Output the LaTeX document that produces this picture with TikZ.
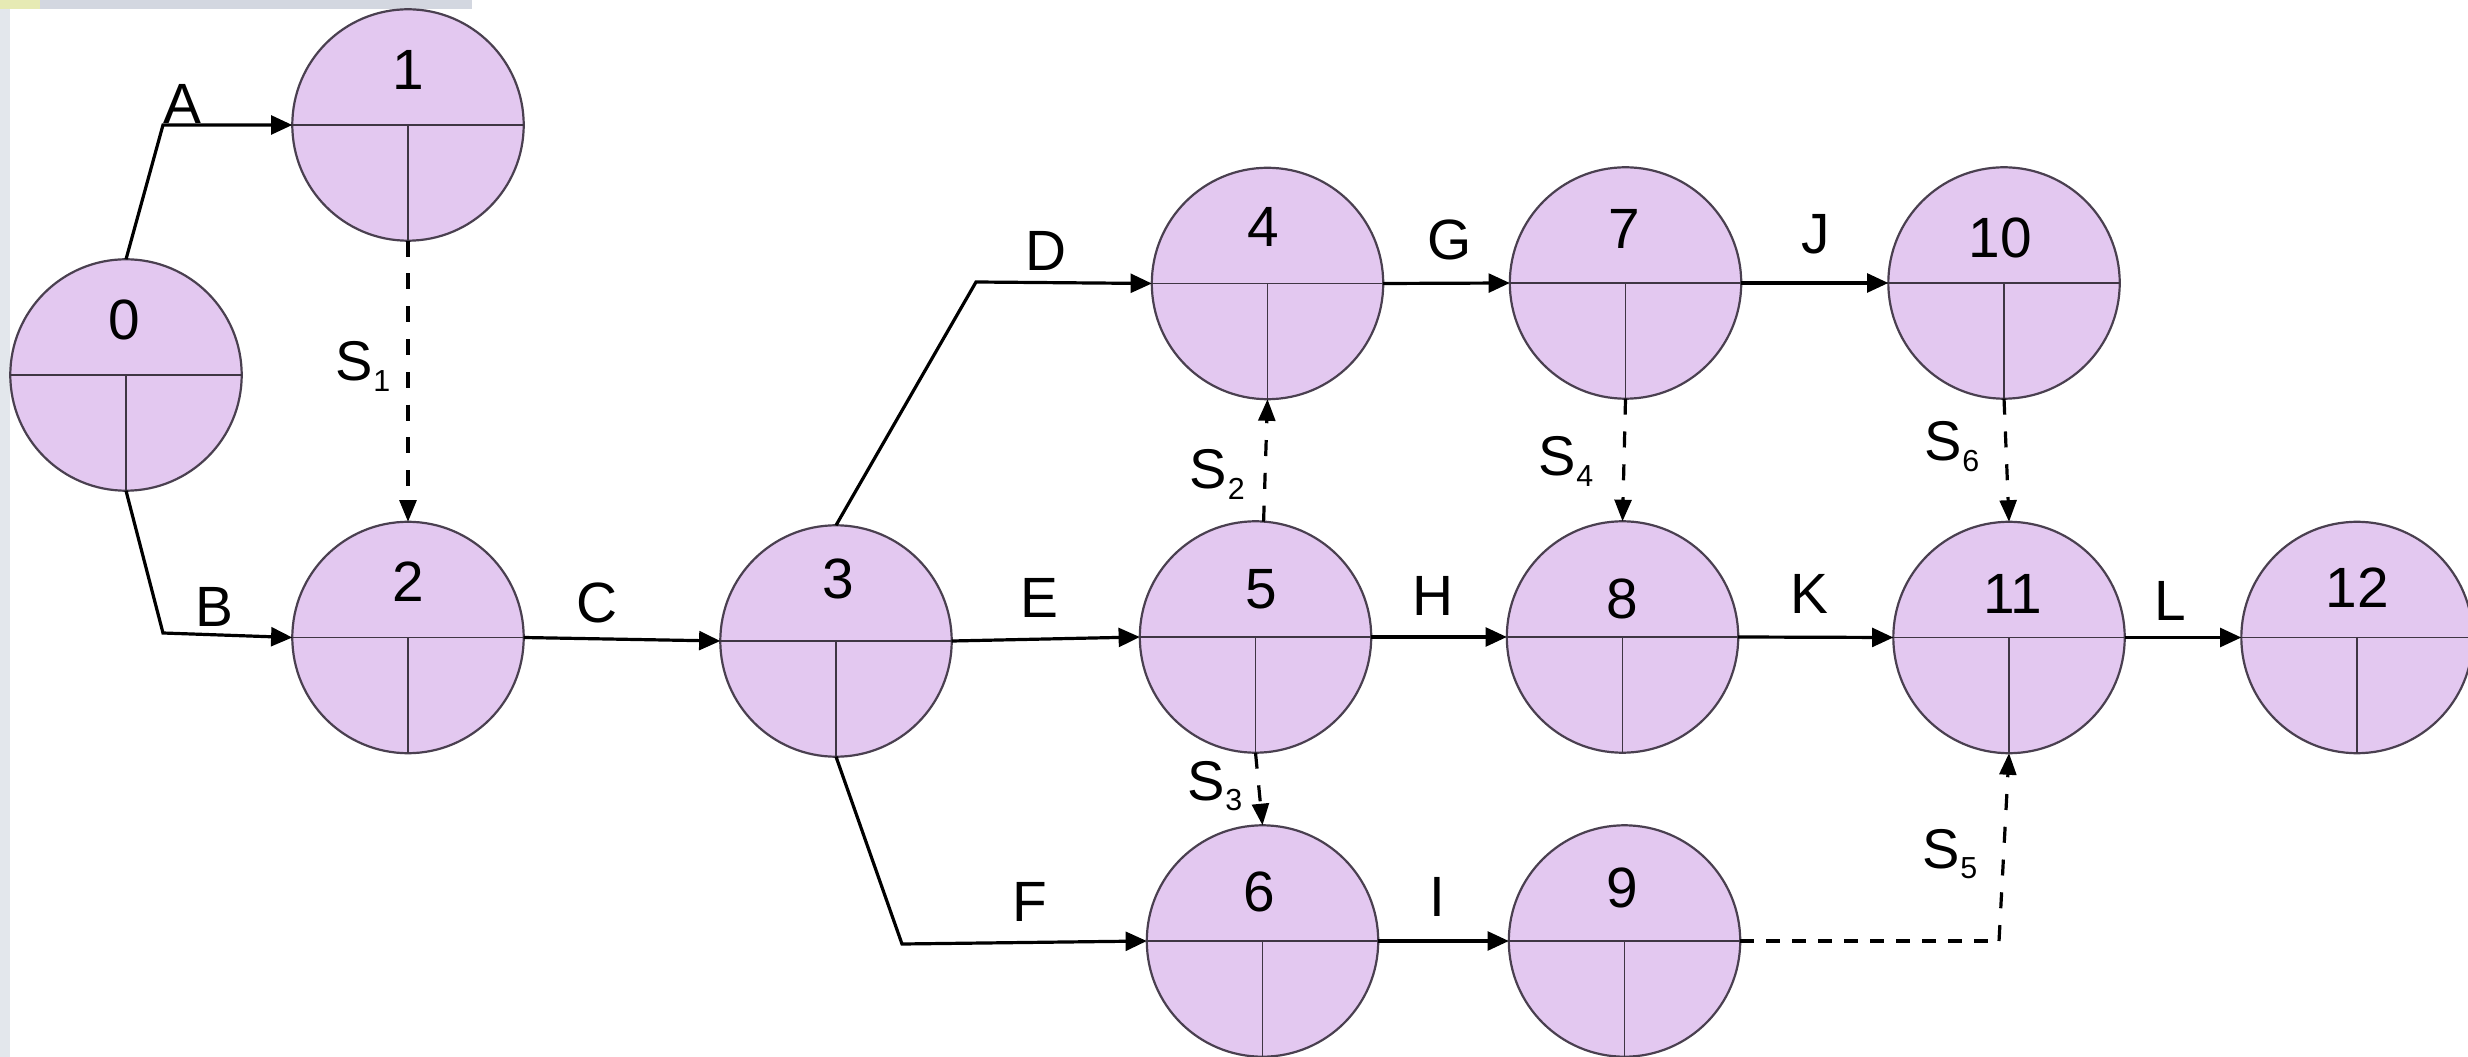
\documentclass[tikz,border=0pt]{standalone}
\usepackage{fontspec}
\setmainfont{Liberation Sans}
\usetikzlibrary{arrows.meta,calc}
\definecolor{evfill}{HTML}{E3C8F0}
\definecolor{evline}{HTML}{4A4050}
\definecolor{stripL}{HTML}{E3E7EC}
\definecolor{stripT}{HTML}{D3D7E0}
\definecolor{stripY}{HTML}{E6EAB4}
\tikzset{
 ev/.style={circle,draw=evline,line width=0.55pt,fill=evfill,minimum size=57.85pt,inner sep=0pt,outer sep=0pt},
 div/.style={draw=evline!85!black,line width=0.45pt},
 num/.style={inner sep=0pt,font=\fontsize{14.2pt}{17pt}\selectfont},
 act/.style={inner sep=0pt,font=\fontsize{14.2pt}{17pt}\selectfont},
 slab/.style={inner sep=0pt,anchor=base west,font=\fontsize{14pt}{17pt}\selectfont},
 arr/.style={draw=black,line width=0.8pt,-{Triangle[length=5.3pt,width=4.7pt]}},
 dum/.style={draw=black,line width=0.8pt,dash pattern=on 4pt off 4.2pt,-{Triangle[length=5.4pt,width=4.2pt]}},
 dumh/.style={draw=black,line width=0.8pt,dash pattern=on 3.5pt off 3pt},
}
\newcommand\Slab[1]{S\kern0.2pt\raisebox{-2.7pt}{\fontsize{7.6pt}{9pt}\selectfont #1}}
\newcommand\evnode[3]{%
  \node[ev] (#1) at (#2,#3) {};
  \draw[div] (#1.west) -- (#1.east) (#1.center) -- (#1.south);
}
\begin{document}
\begin{tikzpicture}[x=0.25pt,y=-0.25pt]
\useasboundingbox (0,0) rectangle (2468,1057);
\fill[white] (0,0) rectangle (2468,1057);
\fill[stripL] (0,0) rectangle (10,1057);
\fill[stripT] (0,0) rectangle (472,9);
\fill[stripY] (0,0) rectangle (40,9);

% events
\evnode{n0}{126}{375}
\evnode{n1}{408}{125}
\evnode{n2}{408}{637.5}
\evnode{n3}{836}{641}
\evnode{n4}{1267.5}{283.5}
\evnode{n5}{1255.5}{637}
\evnode{n6}{1262.5}{941}
\evnode{n7}{1625.5}{283}
\evnode{n8}{1622.5}{637}
\evnode{n9}{1624.5}{941}
\evnode{n10}{2004}{283}
\evnode{n11}{2009}{637.5}
\evnode{n12}{2357}{637.5}

% event numbers
\node[num] (t0) at (124.5,320) {0};
\node[num] (t1) at (408,70) {1};
\node[num] (t2) at (408,581.6) {2};
\node[num] (t3) at (838,578.5) {3};
\node[num] (t4) at (1263.6,227) {4};
\node[num] (t5) at (1261,589) {5};
\node[num] (t6) at (1259,892) {6};
\node[num] (t7) at (1624,229) {7};
\node[num] (t8) at (1622.5,599) {8};
\node[num] (t9) at (1622.5,888) {9};
\node[num] (t10) at (2000,238) {10};
\node[num] (t11) at (2013,594) {11};
\node[num] (t12) at (2357,588) {12};

% bend points
\coordinate (bA) at (163,125);
\coordinate (bB) at (163,633);
\coordinate (bD) at (976,282);
\coordinate (bF) at (902,944);
\coordinate (bS5) at (1999,941);

% activities
\draw[arr] (n0.north) -- (bA) -- (n1.west);
\draw[arr] (n0.south) -- (bB) -- (n2.west);
\draw[arr] (n2.east) -- (n3.west);
\draw[arr] (n3.north) -- (bD) -- (n4.west);
\draw[arr] (n3.east) -- (n5.west);
\draw[arr] (n3.south) -- (bF) -- (n6.west);
\draw[arr] (n4.east) -- (n7.west);
\draw[arr] (n5.east) -- (n8.west);
\draw[arr] (n6.east) -- (n9.west);
\draw[arr] (n7.east) -- (n10.west);
\draw[arr] (n8.east) -- (n11.west);
\draw[arr] (n11.east) -- (n12.west);

% dummy activities
\draw[dum] (n1.south) -- (n2.north);
\draw[dum] (n5.86) -- (n4.south);
\draw[dum] (n5.south) -- (n6.north);
\draw[dum] (n7.south) -- (n8.north);
\draw[dumh] (n9.east) -- (bS5);
\draw[dum] (bS5) -- (n11.south);
\draw[dum] (n10.south) -- (n11.north);

% activity labels
\node[act] (lA) at (182,104) {A};
\node[act] (lB) at (214,607) {B};
\node[act] (lC) at (597,603) {C};
\node[act] (lD) at (1045.5,251) {D};
\node[act] (lE) at (1039.5,598) {E};
\node[act] (lF) at (1030,902) {F};
\node[act] (lG) at (1450,240) {G};
\node[act] (lH) at (1432.5,596) {H};
\node[act] (lI) at (1437,897) {I};
\node[act] (lJ) at (1816,234) {J};
\node[act] (lK) at (1809,594) {K};
\node[act] (lL) at (2170,601) {L};

% dummy labels
\node[slab] (s1) at (334.5,381) {\Slab{1}};
\node[slab] (s2) at (1189,489) {\Slab{2}};
\node[slab] (s3) at (1186.5,800) {\Slab{3}};
\node[slab] (s4) at (1537.5,476) {\Slab{4}};
\node[slab] (s5) at (1921.5,868) {\Slab{5}};
\node[slab] (s6) at (1923.5,461) {\Slab{6}};
\end{tikzpicture}
\end{document}
